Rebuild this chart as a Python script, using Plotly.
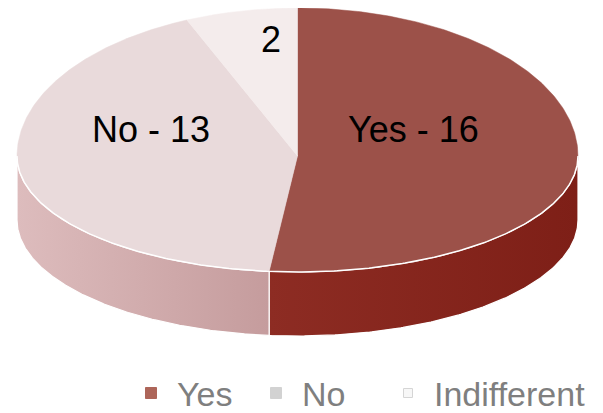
import numpy as np
import plotly.graph_objects as go

# data
labels = ["Yes", "No", "Indifferent"]
values = [16, 13, 2]
slice_text = ["Yes - 16", "No - 13", "2"]

# styling
top_colors = ["#9c5149", "#e9dadb", "#f4ecec"]
side_scales = [
    [[0, "#8d2c23"], [1, "#7e1f17"]],
    [[0, "#ddbcbd"], [1, "#c59c9d"]],
    [[0, "#eee2e2"], [1, "#eee2e2"]],
]
legend_colors = ["#8b2414", "#c0c0c0", "#f4f4f4"]
label_pos = [(413, 129), (151, 129), (271, 39)]
legend_x = [151, 276, 408]

# 3D pie geometry in pixel space
cx, cy = 297.5, 156
a = 280.5
b_top, b_bot = 148, 116
depth = 64


def rim(theta_deg):
    t = np.radians(theta_deg)
    x = cx + a * np.sin(t)
    c = np.cos(t)
    y = cy - np.where(c > 0, b_top, b_bot) * c
    return x, y


total = sum(values)
bounds = np.concatenate([[0], np.cumsum(values) / total * 360])

fig = go.Figure()

# side walls (visible front half: 90..270 degrees)
for i in range(len(values)):
    s, e = max(bounds[i], 90), min(bounds[i + 1], 270)
    if e <= s:
        continue
    th = np.linspace(s, e, 200)
    x, y = rim(th)
    xs = np.concatenate([x, x[::-1], x[:1]])
    ys = np.concatenate([y, (y + depth)[::-1], y[:1]])
    fig.add_trace(go.Scatter(
        x=xs, y=ys, mode="lines", fill="toself",
        fillgradient=dict(type="horizontal", colorscale=side_scales[i]),
        line=dict(color="white", width=1.2),
        hoverinfo="skip", showlegend=False,
    ))

# top faces
for i in range(len(values)):
    th = np.linspace(bounds[i], bounds[i + 1], 300)
    x, y = rim(th)
    xs = np.concatenate([[cx], x, [cx]])
    ys = np.concatenate([[cy], y, [cy]])
    fig.add_trace(go.Scatter(
        x=xs, y=ys, mode="lines", fill="toself", fillcolor=top_colors[i],
        line=dict(color=top_colors[i], width=0.5),
        hoverinfo="skip", showlegend=False,
    ))

# white rim edge along the front
th = np.linspace(90, 270, 300)
x, y = rim(th)
fig.add_trace(go.Scatter(x=x, y=y, mode="lines", line=dict(color="white", width=1.5),
                         hoverinfo="skip", showlegend=False))

for txt, (lx, ly) in zip(slice_text, label_pos):
    fig.add_annotation(x=lx, y=ly, text=txt, showarrow=False,
                       font=dict(family="Liberation Sans, Arial, sans-serif", size=36, color="black"))

# legend
fig.add_trace(go.Scatter(
    x=legend_x, y=[393] * 3, mode="markers",
    marker=dict(symbol="square", size=[11, 11, 9], color=legend_colors,
                line=dict(color=["#8b2414", "#c0c0c0", "#c4c4c4"], width=1)),
    hoverinfo="skip", showlegend=False,
))
for lab, lx in zip(labels, legend_x):
    fig.add_annotation(x=lx + 25, y=394, text=lab, showarrow=False, xanchor="left",
                       borderpad=0,
                       font=dict(family="Liberation Sans, Arial, sans-serif", size=34, color="#7f7f7f"))

# page body has an 8px margin, so the ranges start at 8 to keep pixels aligned
fig.update_layout(
    width=603, height=413,
    margin=dict(l=0, r=0, t=0, b=0),
    paper_bgcolor="white", plot_bgcolor="white",
    xaxis=dict(range=[8, 611], visible=False, fixedrange=True),
    yaxis=dict(range=[421, 8], visible=False, fixedrange=True),
)

fig.write_html("out.html")
